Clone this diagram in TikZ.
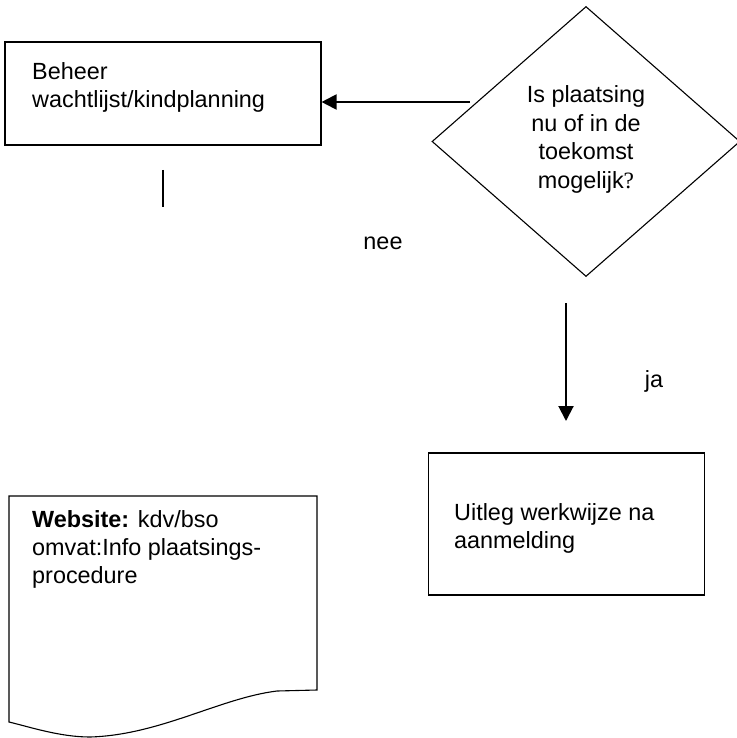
\documentclass[tikz,border=0pt]{standalone}
\usepackage{fontspec}
\setmainfont{Liberation Sans}
\newfontfamily\serifq{Liberation Serif}
\usetikzlibrary{shapes.geometric,arrows.meta}
\tikzset{
  box/.style={draw, line width=1.1pt, inner sep=0pt},
  txt/.style={font=\fontsize{23.4}{28}\selectfont, align=left, inner sep=0pt},
  arr/.style={line width=2pt, -{Triangle[length=15pt,width=15pt]}},
  plain/.style={line width=1.5pt}
}
\begin{document}
\begin{tikzpicture}[x=1pt,y=-1pt]
\useasboundingbox (0,0) rectangle (736,738);
% box Beheer
\node[box, minimum width=316pt, minimum height=103pt] (beheer) at (163,93.5) {};
\node[txt, anchor=base west] (beheertxt) at (32,108) {Beheer\\wachtlijst/kindplanning};
% diamond
\node[diamond, draw, line width=1.1pt, minimum width=308pt, minimum height=270pt, inner sep=0pt] (vraag) at (586,141.5) {};
\node[txt, align=center, anchor=base, font=\fontsize{23.4}{28.6}\selectfont] (vraagtxt) at (586,188.5) {Is plaatsing\\nu of in de\\toekomst\\mogelijk{\serifq ?}};
% box Uitleg
\node[box, minimum width=276pt, minimum height=142pt] (uitleg) at (566.5,524) {};
\node[txt, anchor=base west] (uitlegtxt) at (454,548) {Uitleg werkwijze na\\aanmelding};
% document shape
\draw[line width=1.1pt] (9,496) -- (317,496) -- (317,690) -- (277,691)
  .. controls (220,698) and (160,735) .. (90,737)
  .. controls (60,737) and (30,727) .. (9,722) -- cycle;
\node[txt, anchor=base west] (website) at (32,583.5) {\textbf{Website:} kdv/bso\\omvat:Info plaatsings-\\procedure};
% labels
\node[txt, anchor=base] (nee) at (383,249) {nee};
\node[txt, anchor=base] (ja) at (654,387) {ja};
% connectors
\coordinate (a1) at (470,102);
\draw[arr] (a1) -- (beheer.east |- a1);
\coordinate (d1) at (566,303);
\coordinate (d2) at (566,421);
\draw[arr] (d1) -- (d2);
\coordinate (s1) at (163,170);
\coordinate (s2) at (163,207);
\draw[plain] (s1) -- (s2);
\end{tikzpicture}
\end{document}
